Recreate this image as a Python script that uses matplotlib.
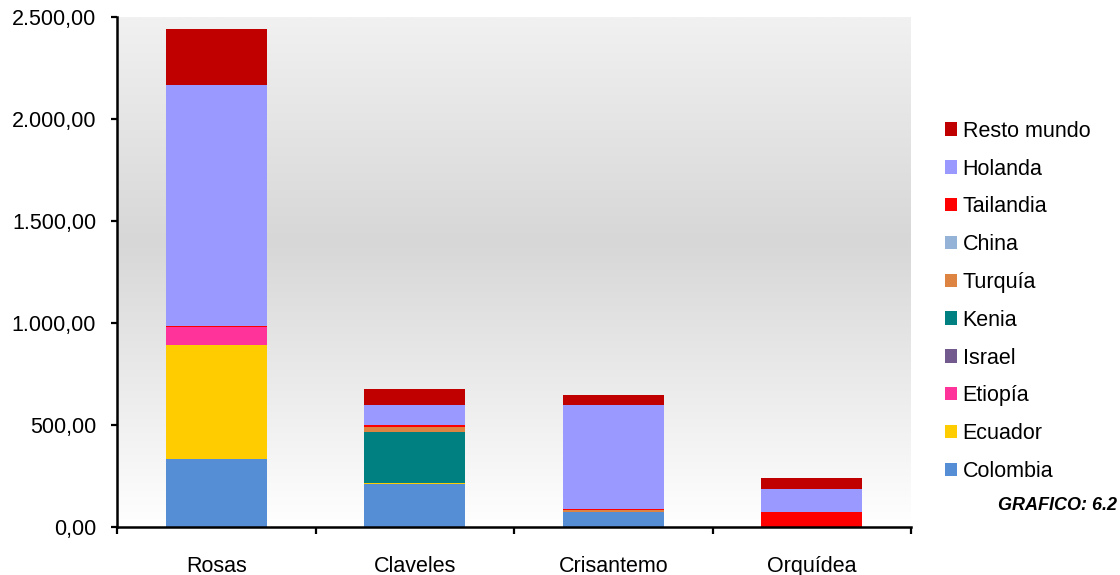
import numpy as np
import matplotlib
matplotlib.use("Agg")
import matplotlib.pyplot as plt
from matplotlib.patches import Patch
from matplotlib.ticker import FuncFormatter, FixedLocator
from matplotlib.colors import LinearSegmentedColormap

plt.rcParams["font.family"] = ["Liberation Sans", "DejaVu Sans"]

# flower categories and origin countries (stack order: bottom -> top)
flores = ["Rosas", "Claveles", "Crisantemo", "Orquídea"]
paises = ["Colombia", "Ecuador", "Etiopía", "Israel", "Kenia",
          "Turquía", "China", "Tailandia", "Holanda", "Resto mundo"]
colores = ["#558ED5", "#FFCC00", "#FF3399", "#725A8E", "#008080",
           "#DD8443", "#95B3D7", "#FF0000", "#9999FF", "#C00000"]

colombia  = [334, 210, 74, 0]
ecuador   = [556, 5, 0, 0]
etiopia   = [89, 0, 0, 0]
israel    = [0, 0, 0, 0]
kenia     = [0, 253, 0, 0]
turquia   = [0, 23, 9, 0]
china     = [0, 0, 0, 0]
tailandia = [5, 11, 7, 75]
holanda   = [1183, 97, 509, 112]
resto     = [274, 79, 46, 54]
series = [colombia, ecuador, etiopia, israel, kenia,
          turquia, china, tailandia, holanda, resto]

fig = plt.figure(figsize=(11.2, 5.75), dpi=100)
ax = fig.add_axes([117 / 1120, 48 / 575, 794 / 1120, 510 / 575])

# vertical grey gradient behind the bars
grad = LinearSegmentedColormap.from_list(
    "bg", [(0.0, "#ffffff"), (0.56, "#d7d7d7"), (1.0, "#f1f1f1")])
ax.imshow(np.linspace(0, 1, 256).reshape(-1, 1), cmap=grad, origin="lower",
          aspect="auto", extent=(-0.5, 3.5, 0, 2500), zorder=0)

x = np.arange(len(flores))
bottom = np.zeros(len(flores))
for vals, nombre, col in zip(series, paises, colores):
    vals = np.array(vals, dtype=float)
    ax.bar(x, vals, width=0.51, bottom=bottom, color=col, label=nombre,
           zorder=2, linewidth=0)
    bottom += vals

ax.set_xlim(-0.5, 3.5)
ax.set_ylim(0, 2500)
ax.set_yticks(np.arange(0, 2501, 500))
ax.yaxis.set_major_formatter(FuncFormatter(
    lambda v, _: f"{v:,.2f}".replace(",", "X").replace(".", ",").replace("X", ".")))
ax.set_xticks(x)
ax.set_xticklabels(flores, fontsize=15.5)
ax.xaxis.set_minor_locator(FixedLocator(np.arange(-0.5, 3.6, 1.0)))
ax.tick_params(axis="x", which="major", length=0, pad=21)
ax.tick_params(axis="x", which="minor", length=5, width=1.6, direction="out")
ax.tick_params(axis="y", length=4, width=1.6, pad=11, labelsize=15.5)
for s in ("top", "right"):
    ax.spines[s].set_visible(False)
for s in ("left", "bottom"):
    ax.spines[s].set_linewidth(1.8)

handles = [Patch(facecolor=c, edgecolor="none") for c in colores][::-1]
fig.legend(handles, paises[::-1], loc="upper left",
           bbox_to_anchor=(934 / 1120, 1 - 110 / 575), frameon=False,
           fontsize=15.5, handlelength=0.58, handleheight=0.58,
           handletextpad=0.25, labelspacing=0.78, borderpad=0)

fig.text(1117 / 1120, 1 - 505 / 575, "GRAFICO: 6.2", ha="right", va="center",
         fontsize=13, fontweight="bold", fontstyle="italic")

fig.savefig("out.png", dpi=100)
